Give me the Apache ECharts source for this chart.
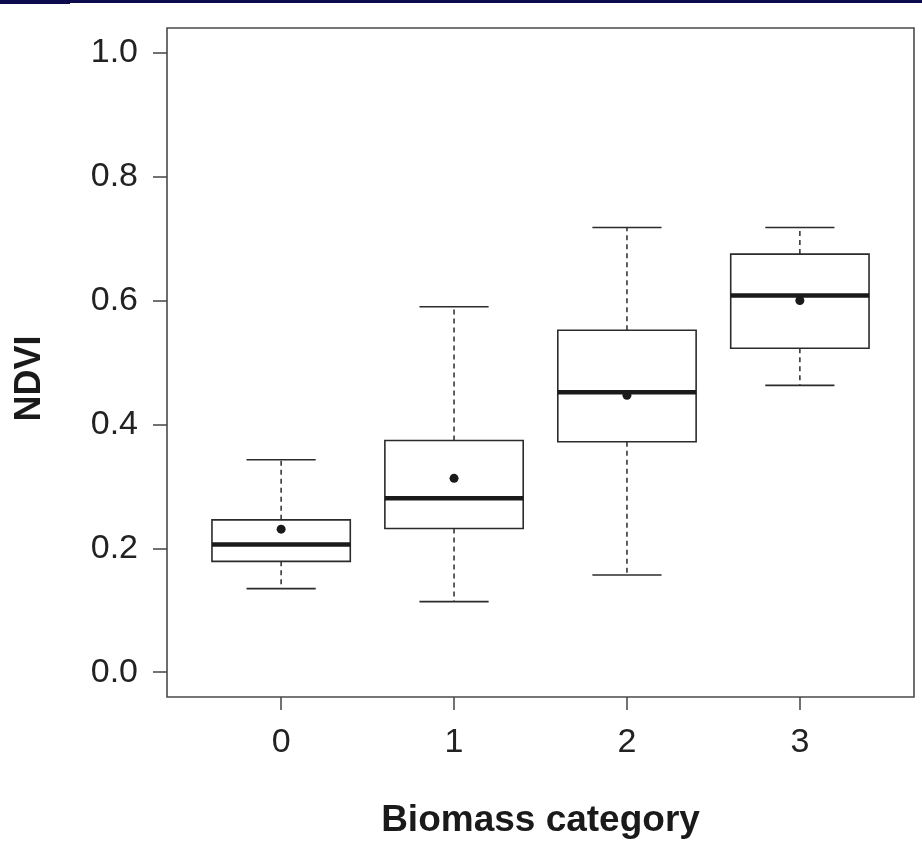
<!DOCTYPE html>
<html>
<head>
<meta charset="utf-8">
<script src="https://cdn.jsdelivr.net/npm/echarts@6/dist/echarts.min.js"></script>
<style>
  html, body { margin: 0; padding: 0; background: #fff; }
  #chart { width: 922px; height: 851px; }
</style>
</head>
<body>
<div id="chart"></div>
<script>
// boxplot stats per biomass category
var categories = ["0", "1", "2", "3"];
var lowerWhisker = [0.135, 0.114, 0.157, 0.463];
var q1 = [0.179, 0.232, 0.372, 0.523];
var median = [0.206, 0.281, 0.452, 0.608];
var q3 = [0.246, 0.374, 0.552, 0.675];
var upperWhisker = [0.343, 0.590, 0.718, 0.718];
var means = [0.231, 0.313, 0.447, 0.600];
var yTicks = [0, 0.2, 0.4, 0.6, 0.8, 1.0];

var chart = echarts.init(document.getElementById("chart"));

var xPos = categories.map(function (c, i) { return i + 1; });
var boxData = categories.map(function (c, i) {
  return [xPos[i], lowerWhisker[i], q1[i], median[i], q3[i], upperWhisker[i]];
});
var meanData = categories.map(function (c, i) {
  return [xPos[i], means[i]];
});

var lineCol = "#2b2b2b";

function renderBox(params, api) {
  var x = api.value(0);
  var half = api.size([0.8, 0])[0] / 2;
  var cap = half / 2;
  var pLw = api.coord([x, api.value(1)]);
  var pQ1 = api.coord([x, api.value(2)]);
  var pMd = api.coord([x, api.value(3)]);
  var pQ3 = api.coord([x, api.value(4)]);
  var pUw = api.coord([x, api.value(5)]);
  var dash = { stroke: lineCol, lineWidth: 1.5, lineDash: [5, 4] };
  var solid = { stroke: lineCol, lineWidth: 1.6 };
  return {
    type: "group",
    children: [
      { type: "line", shape: { x1: pQ3[0], y1: pQ3[1], x2: pUw[0], y2: pUw[1] }, style: dash },
      { type: "line", shape: { x1: pQ1[0], y1: pQ1[1], x2: pLw[0], y2: pLw[1] }, style: dash },
      { type: "line", shape: { x1: pUw[0] - cap, y1: pUw[1], x2: pUw[0] + cap, y2: pUw[1] }, style: solid },
      { type: "line", shape: { x1: pLw[0] - cap, y1: pLw[1], x2: pLw[0] + cap, y2: pLw[1] }, style: solid },
      { type: "rect", shape: { x: pQ3[0] - half, y: pQ3[1], width: half * 2, height: pQ1[1] - pQ3[1] },
        style: { fill: "#fff", stroke: lineCol, lineWidth: 1.6 } },
      { type: "line", shape: { x1: pMd[0] - half, y1: pMd[1], x2: pMd[0] + half, y2: pMd[1] },
        style: { stroke: "#1a1a1a", lineWidth: 4.5 } }
    ]
  };
}

var option = {
  backgroundColor: "#fff",
  animation: false,
  graphic: [
    { type: "rect", shape: { x: 0, y: 0, width: 922, height: 3 }, style: { fill: "#0b0b4e" } },
    { type: "rect", shape: { x: 0, y: 0, width: 70, height: 4 }, style: { fill: "#0b0b4e" } }
  ],
  grid: {
    left: 167,
    right: 8,
    top: 28,
    bottom: 154,
    show: true,
    borderColor: "#4a4a4a",
    borderWidth: 1.6
  },
  xAxis: {
    type: "value",
    min: 0.34,
    max: 4.66,
    splitLine: { show: false },
    axisLine: { show: false, onZero: false },
    axisTick: { show: true, length: 13, customValues: xPos, lineStyle: { color: "#444", width: 1.5 } },
    axisLabel: {
      customValues: xPos,
      margin: 29,
      fontSize: 34,
      fontFamily: "Liberation Sans",
      color: "#222",
      formatter: function (v) { return categories[Math.round(v) - 1]; }
    },
    name: "Biomass category",
    nameLocation: "middle",
    nameGap: 105,
    nameTextStyle: { fontSize: 37, fontWeight: "bold", fontFamily: "Liberation Sans", color: "#1a1a1a" }
  },
  yAxis: {
    type: "value",
    min: -0.04,
    max: 1.04,
    splitLine: { show: false },
    axisLine: { show: false, onZero: false },
    axisTick: { show: true, length: 14, customValues: yTicks, lineStyle: { color: "#444", width: 1.5 } },
    axisLabel: {
      customValues: yTicks,
      margin: 29,
      fontSize: 34,
      fontFamily: "Liberation Sans",
      color: "#222",
      formatter: function (v) { return v.toFixed(1); }
    },
    name: "NDVI",
    nameLocation: "middle",
    nameGap: 119,
    nameTextStyle: { fontSize: 36, fontWeight: "bold", fontFamily: "Liberation Sans", color: "#1a1a1a", padding: [0, 32, 0, 0] }
  },
  series: [
    {
      type: "custom",
      renderItem: renderBox,
      data: boxData,
      z: 2
    },
    {
      type: "scatter",
      data: meanData,
      symbol: "circle",
      symbolSize: 9,
      itemStyle: { color: "#1a1a1a", opacity: 1 },
      z: 3
    }
  ]
};

chart.setOption(option);
</script>
</body>
</html>
